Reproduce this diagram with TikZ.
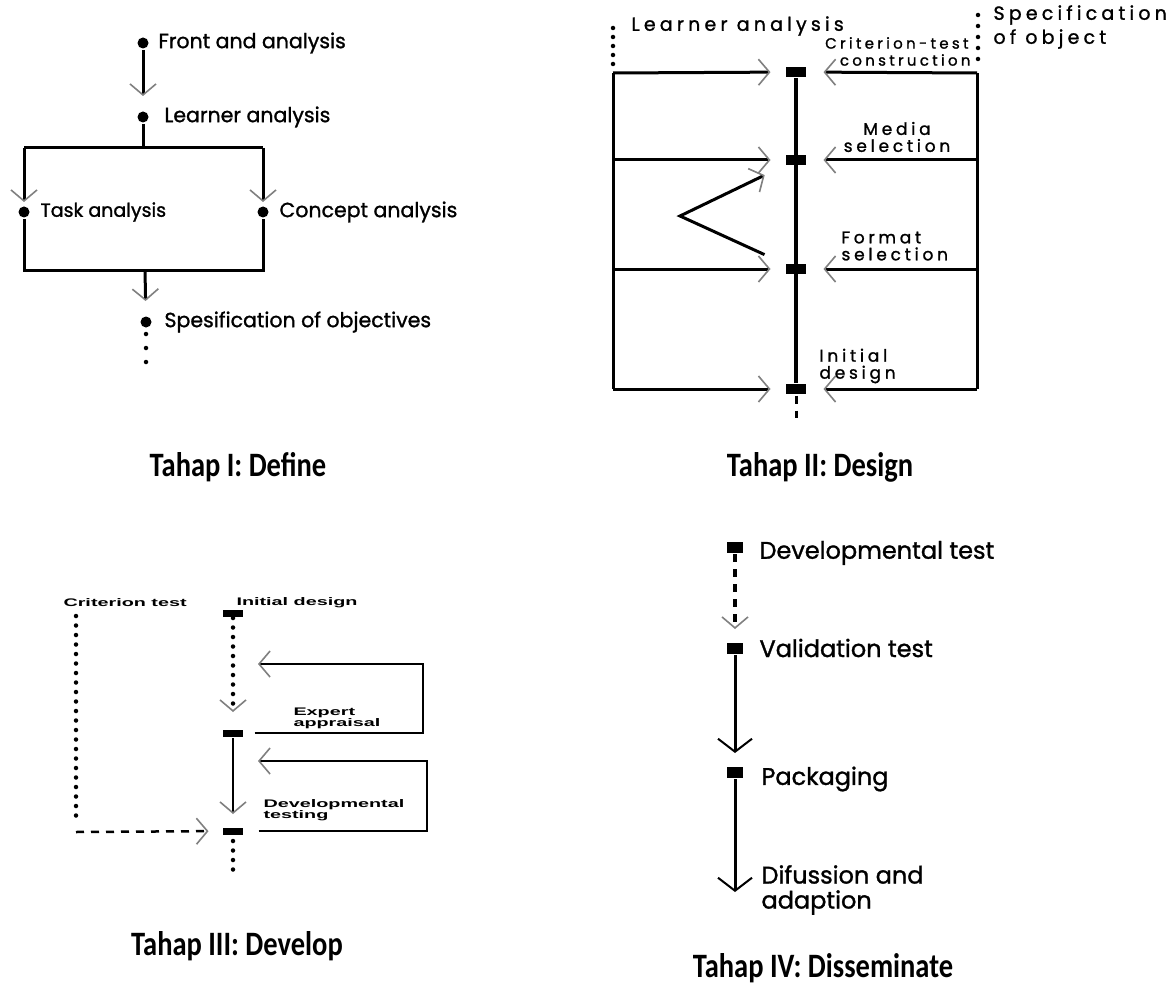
\documentclass[tikz,border=0pt]{standalone}
\usepackage{fontspec}
\usepackage{graphicx}
\usetikzlibrary{arrows.meta}
\newfontfamily\gothic[FakeBold=1.2]{Poppins}
\newfontfamily\gothicls[LetterSpace=22,FakeBold=1.2]{Poppins}
\newfontfamily\grot{Liberation Sans}
\newfontfamily\capfont{Carlito}
\newcommand{\wide}[1]{\scalebox{1.8}[1]{#1}}
\newcommand{\tall}[1]{\scalebox{1}[1.2]{#1}}

\begin{document}
\begin{tikzpicture}[x=1pt,y=-1pt,line width=3pt,
  openv/.tip={Straight Barb[length=11pt,width=26pt,line width=1.6pt,color=black!50]},
  darkv/.tip={Straight Barb[length=13pt,width=34pt,line width=2pt]},
  dot/.style={circle,fill=black,inner sep=0pt,minimum size=11pt},
  sqd/.style={rectangle,fill=black,inner sep=0pt,minimum width=20pt,minimum height=10pt},
  sqv/.style={rectangle,fill=black,inner sep=0pt,minimum width=20pt,minimum height=7pt},
  sqs/.style={rectangle,fill=black,inner sep=0pt,minimum width=16pt,minimum height=11pt},
  lbl/.style={font=\gothic\fontsize{20.5}{22}\selectfont,anchor=west,inner sep=0pt},
  lbltop/.style={font=\gothicls\fontsize{19}{21}\selectfont,anchor=west,inner sep=0pt},
  lblsm/.style={font=\gothicls\fontsize{15}{15}\selectfont,anchor=east,inner sep=0pt},
  lblmid/.style={font=\gothicls\fontsize{17}{17}\selectfont,inner sep=0pt},
  lblbig/.style={font=\gothic\fontsize{24}{25}\selectfont,anchor=west,inner sep=0pt},
  tiny/.style={font=\grot\bfseries\fontsize{11}{12}\selectfont,anchor=west,inner sep=0pt,align=left},
  dots/.style={dash pattern=on 0pt off #1,line cap=round,line width=4.5pt},
  dots/.default=10pt,
  dashline/.style={dash pattern=on 8pt off 7pt},
  captext/.style={font=\capfont\bfseries\fontsize{28.5}{30}\selectfont}]

\fill[white] (0,0) rectangle (1175,987);
\useasboundingbox (0,0) rectangle (1175,987);

% ---------- Stage I: Define ----------
\node[dot] (fe) at (143,43) {};
\node[lbl] at (157,43) {Front and analysis};
\node[dot] (la) at (143,117) {};
\node[lbl] at (163,117) {Learner analysis};
\coordinate (bt) at (143,148);
\coordinate (btl) at (24,148);
\coordinate (btr) at (263,148);
\coordinate (bbl) at (24,270);
\coordinate (bbr) at (263,270);
\coordinate (bb) at (145,270);
\node[dot] (ta) at (24,212) {};
\node[lbl,font=\gothic\fontsize{19}{20}\selectfont] at (39,212) {Task analysis};
\node[dot] (ca) at (263,212) {};
\node[lbl] at (278,212) {Concept analysis};
\node[dot] (so) at (146,322) {};
\node[lbl] at (163,322) {Spesification of objectives};
\coordinate (soend) at (146,370);

\draw[-{openv},shorten >=14pt] (fe) -- (la);
\draw (la) -- (bt);
\draw (btl) -- (btr);
\draw[-{openv},shorten >=3pt] (btl) -- (ta);
\draw[-{openv},shorten >=3pt] (btr) -- (ca);
\draw (ta) -- (bbl) -- (bbr) -- (ca);
\draw[-{openv},shorten >=14pt] (bb) -- (so);
\draw[dots=14pt] ([yshift=-12pt]so.center) -- (soend);

% ---------- Stage II: Design ----------
\node[sqd] (d1) at (796,72) {};
\node[sqd] (d2) at (796,160) {};
\node[sqd] (d3) at (796,269) {};
\node[sqd] (d4) at (796,389) {};
\coordinate (dend) at (796,418);
\coordinate (ltop) at (613,28);
\coordinate (lmid) at (613,66);
\coordinate (rtop) at (978,15);
\coordinate (rmid) at (978,62);
\foreach \i/\y in {1/73,2/160,3/269,4/389}{
  \coordinate (l\i) at (613,\y);
  \coordinate (r\i) at (977,\y);
}
\coordinate (zz) at (680,216);

\draw[dots=9pt] (ltop) -- (lmid);
\draw[dots=11pt] (rtop) -- (rmid);
\draw (l1) -- (l4);
\draw (r1) -- (r4);
\draw[line width=3.5pt] (d1) -- (d4);
\draw[dashline] (d4) -- (dend);
\foreach \i in {1,2,3,4}{
  \draw[-{openv},shorten >=14pt] (l\i) -- (d\i);
  \draw[-{openv},shorten >=16pt] (r\i) -- (d\i);
}
\draw[-{openv},shorten <=22pt,shorten >=22pt] (d3) -- (zz) -- (d2);

\node[lbltop] at (630,26) {Learner analysis};
\node[lbltop] at (992,15) {Specification};
\node[lbltop] at (992,39) {of object};
\node[lblsm] at (970,43) {Criterion-test};
\node[lblsm] at (972,60) {construction};
\node[lblmid,align=center] at (897,137) {Media\\selection};
\node[lblmid,align=left,anchor=west] at (840,246) {Format\\selection};
\node[lblmid,align=left,anchor=west] at (818,366) {Initial\\design};

% ---------- Stage III: Develop ----------
\node[sqv] (v1) at (233,613) {};
\node[sqv] (v2) at (233,733) {};
\node[sqv] (v3) at (233,831) {};
\coordinate (vend) at (233,876);
\coordinate (ct) at (76,616);
\coordinate (cb) at (76,825);
\coordinate (ch) at (76,832);
\coordinate (e1) at (423,664);
\coordinate (e2) at (423,733);
\coordinate (a1) at (258,664);
\coordinate (e3) at (427,761);
\coordinate (e4) at (427,831);
\coordinate (a2) at (258,761);

\draw[dots=9.5pt] (ct) -- (cb);
\draw[line width=2.5pt,dashline,-{openv},shorten >=13pt] (ch) -- (v3);
\draw[dots=9.5pt,-{openv},shorten >=16pt] (v1) -- (v2);
\draw[line width=2.5pt,-{openv},shorten >=12pt] (v2) -- (v3);
\draw[dots=9.5pt] ([yshift=-10pt]v3.center) -- (vend);
\draw[line width=2.5pt,-{openv}] ([xshift=10pt]v2.east) -- (e2) -- (e1) -- (a1);
\draw[line width=2.5pt,-{openv}] ([xshift=14pt]v3.east) -- (e4) -- (e3) -- (a2);

\node[tiny] at (62,603) {\wide{Criterion test}};
\node[tiny] at (235,603) {\wide{Initial design}};
\node[tiny] at (292,718) {\wide{Expert}\\[-1pt]\wide{appraisal}};
\node[tiny] at (262,810) {\wide{Developmental}\\[-1pt]\wide{testing}};

% ---------- Stage IV: Disseminate ----------
\node[sqs] (s1) at (735,547) {};
\node[sqs] (s2) at (735,648) {};
\node[sqs] (s3) at (735,772) {};
\coordinate (s4) at (735,892);

\draw[dashline,line width=3.5pt,-{openv},shorten >=12pt] (s1) -- (s2);
\draw[-{darkv},shorten >=12pt] (s2) -- (s3);
\draw[-{darkv}] (s3) -- (s4);

\node[lblbig] at (758,553) {Developmental test};
\node[lblbig] at (758,648) {Validation test};
\node[lblbig] at (760,779) {Packaging};
\node[lblbig,align=left] at (760,890) {Difussion and\\adaption};

% ---------- captions ----------
\node[captext] at (238,467) {\tall{Tahap I: Define}};
\node[captext] at (820,467) {\tall{Tahap II: Design}};
\node[captext] at (237,946) {\tall{Tahap III: Develop}};
\node[captext] at (823,968) {\tall{Tahap IV: Disseminate}};
\end{tikzpicture}
\end{document}
